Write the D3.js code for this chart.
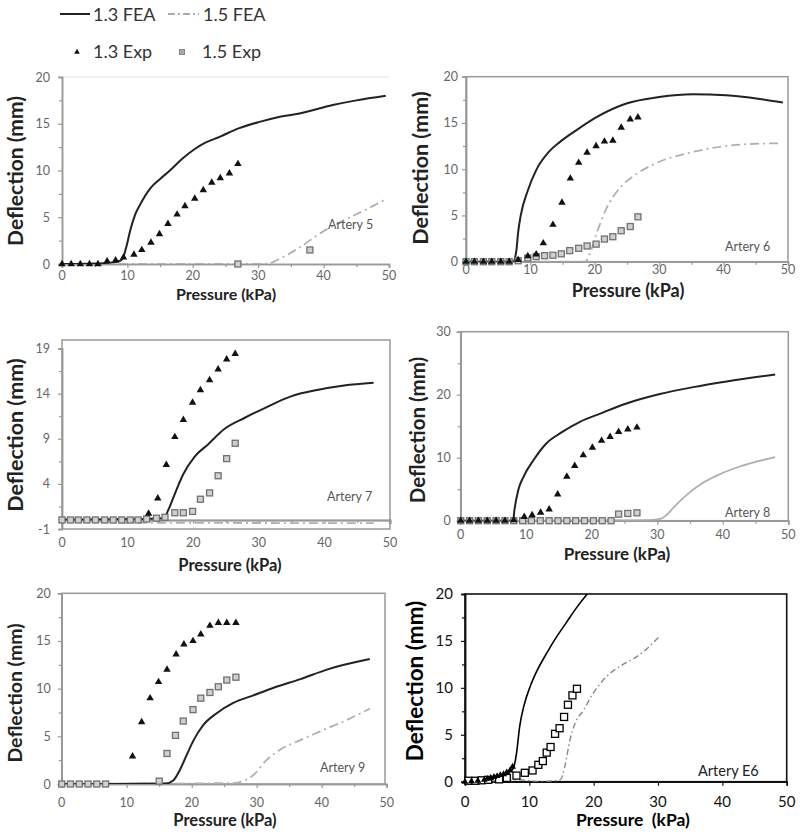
<!DOCTYPE html>
<html><head><meta charset="utf-8">
<script src="https://cdn.jsdelivr.net/npm/d3@7"></script>
<style>body{margin:0;background:#fff}svg{display:block}text{font-family:Lato,"Open Sans",sans-serif}</style>
</head><body>
<svg id="c" width="800" height="834"></svg>
<script>
// ---------- data (x = Pressure kPa, y = Deflection mm) ----------
const xTicks = [0,10,20,30,40,50];
const xMinor = [5,15,25,35,45];
const yTicks20 = [0,5,10,15,20];
const yMinor20 = [2.5,7.5,12.5,17.5];
const yTicks7 = [-1,4,9,14,19];
const yMinor7 = [1.5,6.5,11.5,16.5];
const yTicks8 = [0,10,20,30];
const yMinor8 = [5,15,25];
const seriesNames = ["1.3 FEA","1.5 FEA","1.3 Exp","1.5 Exp"];
const arteryNames = ["Artery 5","Artery 6","Artery 7","Artery 8","Artery 9","Artery E6"];

// Artery 5
const a5_fea13 = [[0,0],[5,0.05],[8,0.2],[9,0.4],[9.4,0.8],[9.9,2.0],[10.4,3.5],[11.2,5.3],[11.9,6.3],[13.5,8.1],[15,9.1],[16.5,10],[18.3,11.2],[20.3,12.3],[22,13],[24.1,13.6],[27,14.5],[30.2,15.2],[33,15.7],[36.3,16.1],[41.4,17],[45,17.5],[49.5,18]];
const a5_fea15 = [[0,0],[30,0],[31.5,0.05],[33.4,0.6],[36.5,1.85],[39.5,3.3],[42.6,4.5],[46.7,5.9],[49.7,7.0]];
const a5_exp13 = [[0,0],[1.4,0],[2.8,0],[4.2,0],[5.5,0],[6.9,0.3],[8.2,0.4],[9.4,0.7],[11.0,1.0],[12.2,1.5],[13.6,2.3],[14.9,3.2],[16.2,4.3],[17.6,5.3],[18.8,6.2],[20.3,7.0],[21.6,7.9],[22.9,8.7],[24.2,9.2],[25.6,9.7],[26.9,10.7]];
const a5_exp15 = [[26.9,0],[37.9,1.5]];
// Artery 6
const a6_fea13 = [[0,0],[7.3,0],[7.8,1.1],[8.1,3.2],[8.5,5.0],[9.6,7.7],[10.9,9.9],[12.9,11.9],[14.5,12.9],[17.1,14.2],[20.2,15.6],[24.9,17.1],[30,17.8],[35.2,18.1],[40.4,18.0],[45.6,17.6],[49.2,17.2]];
const a6_fea15 = [[0,0],[18.5,0],[19.3,1.0],[20.2,2.9],[21.8,5.75],[23.8,7.9],[25.9,9.2],[30,10.8],[34.2,11.7],[38.3,12.3],[43.5,12.7],[48.7,12.8]];
const a6_exp13 = [[0,0],[1.3,0],[2.7,0],[4,0],[5.4,0],[6.7,0],[8.1,0.2],[9.6,0.6],[10.9,0.8],[12.0,2.0],[13.5,4.0],[14.9,6.4],[16.2,9.0],[17.5,10.7],[18.8,11.8],[20.2,12.5],[21.5,13.0],[22.8,13.1],[24.1,14.5],[25.5,15.4],[26.7,15.6]];
const a6_exp15 = [[0,0],[1.3,0],[2.7,0],[4,0],[5.4,0],[6.7,0],[8.1,0.1],[9.6,0.4],[10.9,0.55],[12.2,0.65],[13.5,0.7],[14.8,0.85],[16.1,1.2],[17.5,1.45],[18.8,1.7],[20.2,1.9],[21.5,2.45],[22.8,2.7],[24.1,3.35],[25.5,3.8],[26.7,4.85]];
// Artery 7
const a7_fea13 = [[0,0.05],[10,0.1],[15.5,0.2],[16.2,1.1],[17.2,2.9],[18.5,5.1],[20.2,7.0],[22.3,8.4],[24.8,10.1],[27.8,11.3],[30.9,12.4],[34.9,13.7],[38.9,14.4],[43,14.9],[47.5,15.2]];
const a7_fea15 = [[0,0],[10,-0.3],[47.5,-0.35]];
const a7_exp13 = [[13.2,0.7],[14.6,2.4],[15.9,6.1],[17.2,9.2],[18.5,11.1],[19.9,13.0],[21.1,14.4],[22.5,15.5],[23.8,16.7],[25.1,17.8],[26.4,18.4]];
const a7_exp15 = [[0,0],[1.3,0],[2.5,0],[3.8,0],[5.1,0],[6.5,0],[7.8,0],[9.1,0],[10.4,0],[11.6,0],[12.9,0.1],[14.4,0.2],[15.7,0.3],[17.2,0.8],[18.5,0.8],[19.9,0.95],[21.1,2.3],[22.5,3.0],[23.8,4.9],[25.1,6.8],[26.4,8.5]];
// Artery 8
const a8_fea13 = [[0,0],[8,0],[8.2,1.7],[8.8,4.9],[9.6,7.0],[11.1,9.6],[13.1,12.3],[15.2,13.9],[18.2,15.7],[21.3,17.0],[25.3,18.6],[30.4,20.1],[35.5,21.2],[40.6,22.1],[48,23.2]];
const a8_fea15 = [[0,0],[28,0.1],[30.5,0.3],[31.4,0.9],[32.4,2.0],[34.5,4.1],[36.5,5.7],[39.6,7.4],[42.6,8.6],[48,10.1]];
const a8_exp13 = [[0,0],[1.35,0],[2.7,0],[4.05,0],[5.4,0],[6.75,0],[8.1,0.1],[9.7,0.6],[10.9,0.9],[12.2,1.3],[13.5,1.8],[14.8,4.2],[16.2,7.0],[17.4,8.7],[18.7,10.4],[20.1,11.6],[21.5,12.7],[22.8,13.3],[24.1,14.1],[25.5,14.5],[26.9,14.8]];
const a8_exp15 = [[0,0],[1.35,0],[2.7,0],[4.05,0],[5.4,0],[6.75,0],[8.1,0],[9.45,0],[10.8,0],[12.15,0],[13.5,0],[14.85,0],[16.2,0],[17.55,0],[18.9,0],[20.25,0],[21.6,0],[22.95,0],[24.1,1.05],[25.5,1.15],[26.9,1.25]];
// Artery 9
const a9_fea13 = [[0,0],[16,0.05],[17.2,0.4],[18.2,1.5],[19.2,3.0],[20.3,4.6],[21.8,6.2],[23.8,7.4],[26.4,8.5],[29.5,9.3],[32.6,10.1],[36.7,11.0],[40.8,12.0],[47.4,13.1]];
const a9_fea15 = [[0,0],[26.4,0.1],[29.5,0.95],[31.5,2.5],[33.6,3.6],[36.7,4.6],[39.7,5.5],[43.8,6.7],[47.4,7.9]];
const a9_exp13 = [[10.9,2.9],[12.3,6.5],[13.6,9.0],[14.9,10.7],[16.2,12.0],[17.6,13.6],[18.8,14.65],[20.2,15.0],[21.4,15.7],[22.8,16.6],[24.1,16.9],[25.4,16.9],[26.8,16.9]];
const a9_exp15 = [[0,0],[1.35,0],[2.7,0],[4.05,0],[5.4,0],[6.75,0],[15.0,0.3],[16.2,3.2],[17.5,5.1],[18.7,6.6],[20.2,7.8],[21.4,9.0],[22.8,9.6],[24.1,10.2],[25.4,10.9],[26.8,11.2]];
// Artery E6
const aE6_fea13 = [[0,0.1],[3,0.3],[5,0.6],[7,1.1],[7.5,1.4],[8.0,3.0],[8.5,5.9],[9.2,8.2],[10.1,10.1],[11.1,11.7],[12.7,13.7],[14.2,15.4],[15.8,17.0],[17.4,18.6],[19.0,20.0]];
const aE6_fea15 = [[0,0],[5,0.1],[8.5,0.2],[11.7,0],[14.8,0.2],[15.5,1.6],[16.3,4.4],[17.1,6.2],[18.4,7.6],[19.9,9.4],[22.0,11.2],[24.1,12.3],[26.2,13.1],[28.0,14.0],[30.1,15.4]];
const aE6_exp13 = [[0,0],[1,0.05],[2,0.1],[3,0.2],[3.5,0.3],[4,0.4],[4.5,0.5],[5,0.6],[5.5,0.7],[6,0.8],[6.5,1.0],[7,1.2],[7.4,1.6]];
const aE6_exp15 = [[0.5,0.1],[1.6,0.1],[2.6,0.15],[3.6,0.2],[5.3,0.25],[6.5,0.4],[8.0,0.65],[9.3,0.95],[10.5,1.2],[11.4,1.8],[12.1,2.2],[12.7,3.1],[13.3,3.7],[14.0,5.1],[14.7,5.7],[15.4,6.9],[16.0,8.2],[16.7,9.2],[17.4,9.9]];

// ---------- layout / style ----------
const panels = [
 {name:arteryNames[0], f13:a5_fea13, f15:a5_fea15, e13:a5_exp13, e15:a5_exp15, yT:yTicks20, yM:yMinor20, yD:[0,20],
  px:[62,389], py:[264,77], box:"top", xOff:11.5, yOff:12, yt:{x:15,y:171,fs:21}, xt:{x:226,y:300,fs:16}, lab:{x:328,y:229,fs:12.5}, f15solid:false},
 {name:arteryNames[1], f13:a6_fea13, f15:a6_fea15, e13:a6_exp13, e15:a6_exp15, yT:yTicks20, yM:yMinor20, yD:[0,20],
  px:[466,788], py:[261.7,76.7], box:"full", xOff:7.5, yOff:8, yt:{x:420,y:168,fs:21.5}, xt:{x:628,y:296.5,fs:18}, lab:{x:725,y:251,fs:12.5}, f15solid:false},
 {name:arteryNames[2], f13:a7_fea13, f15:a7_fea15, e13:a7_exp13, e15:a7_exp15, yT:yTicks7, yM:yMinor7, yD:[-1,19],
  px:[62,390], py:[529,348.5], box:"full", boxTop:340, xOff:13, yOff:12, yt:{x:15,y:435,fs:21.5}, xt:{x:230,y:571,fs:16.5}, lab:{x:327,y:501,fs:12.5}, f15solid:false},
 {name:arteryNames[3], f13:a8_fea13, f15:a8_fea15, e13:a8_exp13, e15:a8_exp15, yT:yTicks8, yM:yMinor8, yD:[0,30],
  px:[460.7,788.3], py:[520.7,331.7], box:"full", xOff:14, yOff:10, yt:{x:418,y:430,fs:20.5}, xt:{x:617,y:560,fs:17}, lab:{x:725,y:517,fs:12.5}, f15solid:true},
 {name:arteryNames[4], f13:a9_fea13, f15:a9_fea15, e13:a9_exp13, e15:a9_exp15, yT:yTicks20, yM:yMinor20, yD:[0,20],
  px:[61.7,386.7], py:[784,593.3], box:"full", boxRight:385, xOff:18, yOff:11, yt:{x:15,y:693,fs:19.5}, xt:{x:225,y:826,fs:16.5}, lab:{x:320,y:772,fs:12.5}, f15solid:false},
 {name:arteryNames[5], f13:aE6_fea13, f15:aE6_fea15, e13:aE6_exp13, e15:aE6_exp15, yT:yTicks20, yM:yMinor20, yD:[0,20],
  px:[465,786.7], py:[781.7,594], box:"full", xOff:20, yOff:12, yt:{x:415,y:681,fs:22.5}, xt:{x:633,y:826,fs:17.5}, lab:{x:698,y:776,fs:14.5}, f15solid:false, dark:true}
];

const svg = d3.select("#c");

// ---------- legend ----------
const lg = svg.append("g");
lg.append("line").attr("x1",60).attr("x2",90).attr("y1",14).attr("y2",14).attr("stroke","#222").attr("stroke-width",2);
lg.append("text").attr("x",93).attr("y",20.5).attr("font-size",18).attr("fill","#333").text(seriesNames[0]);
lg.append("line").attr("x1",168).attr("x2",199).attr("y1",14).attr("y2",14).attr("stroke","#aaa").attr("stroke-width",1.8).attr("stroke-dasharray","7,3,2,3");
lg.append("text").attr("x",203).attr("y",20.5).attr("font-size",18).attr("fill","#333").text(seriesNames[1]);
lg.append("path").attr("d",d3.symbol(d3.symbolTriangle,14)()).attr("transform","translate(77,52)").attr("fill","#111");
lg.append("text").attr("x",93).attr("y",58).attr("font-size",18).attr("fill","#333").text(seriesNames[2]);
lg.append("rect").attr("x",179.5).attr("y",49.5).attr("width",5).attr("height",5).attr("fill","#aaa").attr("stroke","#888");
lg.append("text").attr("x",202).attr("y",58).attr("font-size",18).attr("fill","#333").text(seriesNames[3]);

// ---------- panels ----------
panels.forEach((p,i)=>{
  const dark = !!p.dark;
  const axCol = dark ? "#111" : "#999";
  const lblCol = dark ? "#111" : "#666";
  const tfs = dark ? 15 : 12.5;
  const x = d3.scaleLinear().domain([0,50]).range(p.px);
  const y = d3.scaleLinear().domain(p.yD).range(p.py);
  const g = svg.append("g");
  const left = p.px[0], right = p.boxRight || p.px[1];
  const top = p.boxTop || p.py[1], bottom = p.py[0];

  // clip
  const cid = "clip"+i;
  svg.append("clipPath").attr("id",cid).append("rect")
    .attr("x",left).attr("y",top).attr("width",right-left).attr("height",bottom-top);

  // box
  if (p.box==="full") {
    g.append("rect").attr("x",left).attr("y",top).attr("width",right-left).attr("height",bottom-top)
      .attr("fill","none").attr("stroke",axCol).attr("stroke-width",dark?1.6:1.5);
  } else {
    g.append("line").attr("x1",left).attr("x2",right).attr("y1",top).attr("y2",top).attr("stroke","#e2e2e2").attr("stroke-width",1);
  }

  // y axis
  const ya = g.append("g").attr("transform",`translate(${left},0)`);
  ya.call(d3.axisLeft(y).tickValues(p.yT).tickSize(4).tickFormat(""));
  ya.call(s=>s.append("g").call(d3.axisLeft(y).tickValues(p.yM).tickSize(3).tickFormat("")));
  ya.selectAll("path.domain").attr("stroke",axCol).attr("stroke-width",1.5);
  ya.selectAll(".tick line").attr("stroke",axCol).attr("stroke-width",1.2);
  p.yT.forEach(t=>{
    g.append("text").attr("x",left-p.yOff).attr("y",y(t)).attr("dy","0.36em").attr("text-anchor","end")
      .attr("font-size",tfs).attr("fill",lblCol).text(t);
  });

  // x axis (crosses at y = 0)
  const xa = g.append("g").attr("transform",`translate(0,${y(0)})`);
  xa.call(d3.axisBottom(x).tickValues(xTicks).tickSize(4).tickFormat(""));
  if(!dark) xa.call(s=>s.append("g").call(d3.axisBottom(x).tickValues(xMinor).tickSize(3).tickFormat("")));
  xa.selectAll("path.domain").attr("stroke",axCol).attr("stroke-width",dark?1.6:1.5);
  xa.selectAll(".tick line").attr("stroke",axCol).attr("stroke-width",1.2);
  if (p.yD[0] < 0) xa.select("path.domain").attr("stroke","#333");
  xTicks.forEach(t=>{
    g.append("text").attr("x",x(t)).attr("y",bottom+p.xOff).attr("dy","0.36em").attr("text-anchor","middle")
      .attr("font-size",tfs).attr("fill",lblCol).text(t);
  });

  // axis titles
  g.append("text").attr("transform",`translate(${p.yt.x},${p.yt.y}) rotate(-90)`).attr("dy","0.36em")
    .attr("text-anchor","middle").attr("font-weight","bold").attr("font-size",p.yt.fs).attr("fill",dark?"#000":"#222")
    .text("Deflection (mm)");
  g.append("text").attr("x",p.xt.x).attr("y",p.xt.y).attr("text-anchor","middle").attr("font-weight","bold")
    .attr("font-size",p.xt.fs).attr("fill",dark?"#000":"#222")
    .text(dark ? "Pressure\u00a0\u00a0(kPa)" : "Pressure (kPa)");

  // lines
  const line = d3.line().x(d=>x(d[0])).y(d=>y(d[1])).curve(d3.curveMonotoneX);
  const lg2 = g.append("g").attr("clip-path",`url(#${cid})`);
  lg2.append("path").datum(p.f15).attr("d",line).attr("fill","none")
    .attr("stroke",dark?"#888":"#b0b0b0").attr("stroke-width",dark?1.4:1.8)
    .attr("stroke-dasharray",p.f15solid?null:(dark?"6,3,1.5,3":"9,4,2,4"));
  lg2.append("path").datum(p.f13).attr("d",line).attr("fill","none")
    .attr("stroke",dark?"#000":"#222").attr("stroke-width",dark?1.6:2);

  // markers
  if (dark) {
    g.selectAll(null).data(p.e15).join("rect")
      .attr("x",d=>x(d[0])-3.5).attr("y",d=>y(d[1])-3.5).attr("width",7).attr("height",7)
      .attr("fill","#fff").attr("stroke","#000").attr("stroke-width",1.3);
    g.selectAll(null).data(p.e13).join("path").attr("d",d3.symbol(d3.symbolTriangle,20)())
      .attr("transform",d=>`translate(${x(d[0])},${y(d[1])})`).attr("fill","#000");
  } else {
    g.selectAll(null).data(p.e15).join("rect")
      .attr("x",d=>x(d[0])-3).attr("y",d=>y(d[1])-3).attr("width",6).attr("height",6)
      .attr("fill","#d0d0d0").attr("stroke","#707070").attr("stroke-width",1.3);
    g.selectAll(null).data(p.e13).join("path").attr("d",d3.symbol(d3.symbolTriangle,24)())
      .attr("transform",d=>`translate(${x(d[0])},${y(d[1])})`).attr("fill","#111");
  }

  // artery label
  g.append("text").attr("x",p.lab.x).attr("y",p.lab.y).attr("font-size",p.lab.fs)
    .attr("fill",dark?"#222":"#555").text(p.name);
});
</script>
</body></html>
